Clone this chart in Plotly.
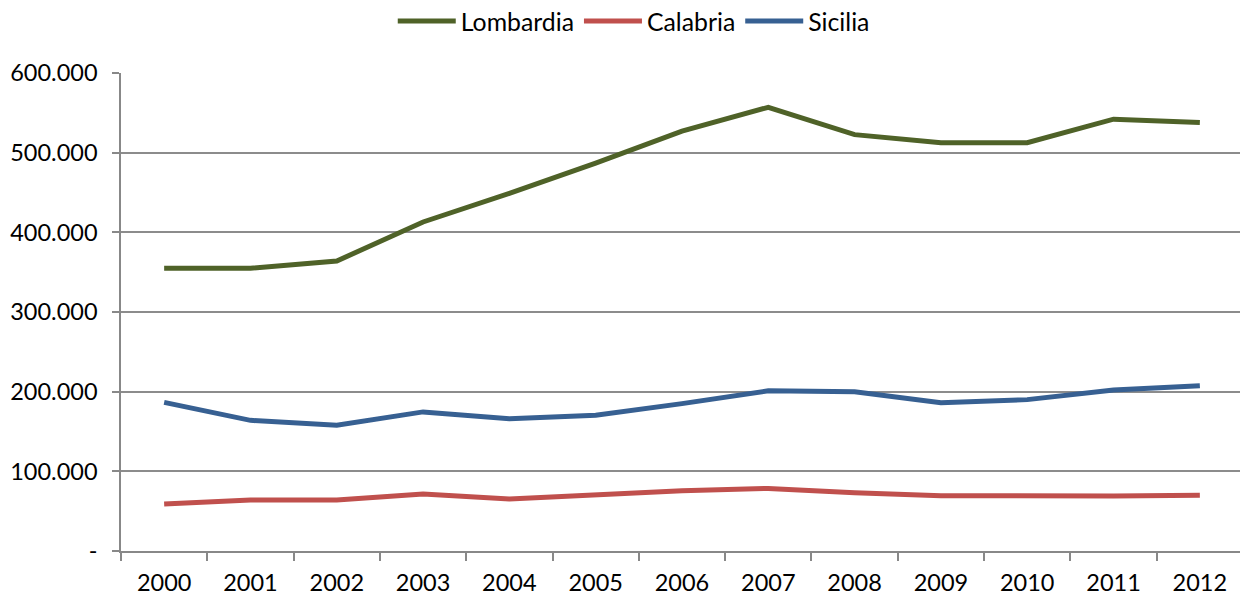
import plotly.graph_objects as go

years = ["2000", "2001", "2002", "2003", "2004", "2005", "2006", "2007", "2008", "2009", "2010", "2011", "2012"]
lombardia = [355000, 355000, 364000, 413000, 449000, 487000, 527000, 557000, 522600, 512600, 512600, 542000, 538000]
calabria = [59000, 64000, 64000, 71500, 65400, 71000, 75500, 78600, 73000, 69400, 68600, 69000, 70000]
sicilia = [186600, 164000, 158000, 174600, 166000, 170500, 185000, 201000, 200000, 186000, 190000, 202000, 207500]

y_tickvals = [0, 100000, 200000, 300000, 400000, 500000, 600000]
y_ticktext = ["-", "100.000", "200.000", "300.000", "400.000", "500.000", "600.000"]

series = [
    ("Lombardia", lombardia, "#4F6228"),
    ("Calabria", calabria, "#C0504D"),
    ("Sicilia", sicilia, "#376092"),
]

fig = go.Figure()
for name, vals, color in series:
    fig.add_trace(go.Scatter(
        x=years, y=vals, name=name, mode="lines",
        line=dict(color=color, width=5),
    ))

fig.update_layout(
    width=1240, height=593,
    margin=dict(l=113, r=5, t=65, b=50, autoexpand=False),
    paper_bgcolor="white", plot_bgcolor="white",
    font=dict(family="Lato, 'Open Sans', sans-serif", size=23.5, color="black"),
    showlegend=True,
    legend=dict(orientation="h", x=0.457, xanchor="center", y=1.108, yanchor="middle",
                yref="paper", font=dict(size=24.8), itemwidth=58,
                traceorder="normal", bgcolor="rgba(0,0,0,0)"),
)

fig.update_xaxes(
    type="category", tickson="boundaries", range=[-0.5, 12.5],
    showline=True, linecolor="#888888", linewidth=1.5,
    ticks="outside", ticklen=8, tickcolor="#888888", tickwidth=1.5,
    showgrid=False, ticklabelstandoff=10,
)
fig.update_yaxes(
    range=[0, 600000], tickvals=y_tickvals, ticktext=y_ticktext,
    showline=True, linecolor="#888888", linewidth=1.5,
    ticks="outside", ticklen=7, tickcolor="#888888", tickwidth=1.5,
    showgrid=True, gridcolor="#8c8c8c", gridwidth=1.5,
    zeroline=False, ticklabelstandoff=10,
)

fig.write_html("out.html")
